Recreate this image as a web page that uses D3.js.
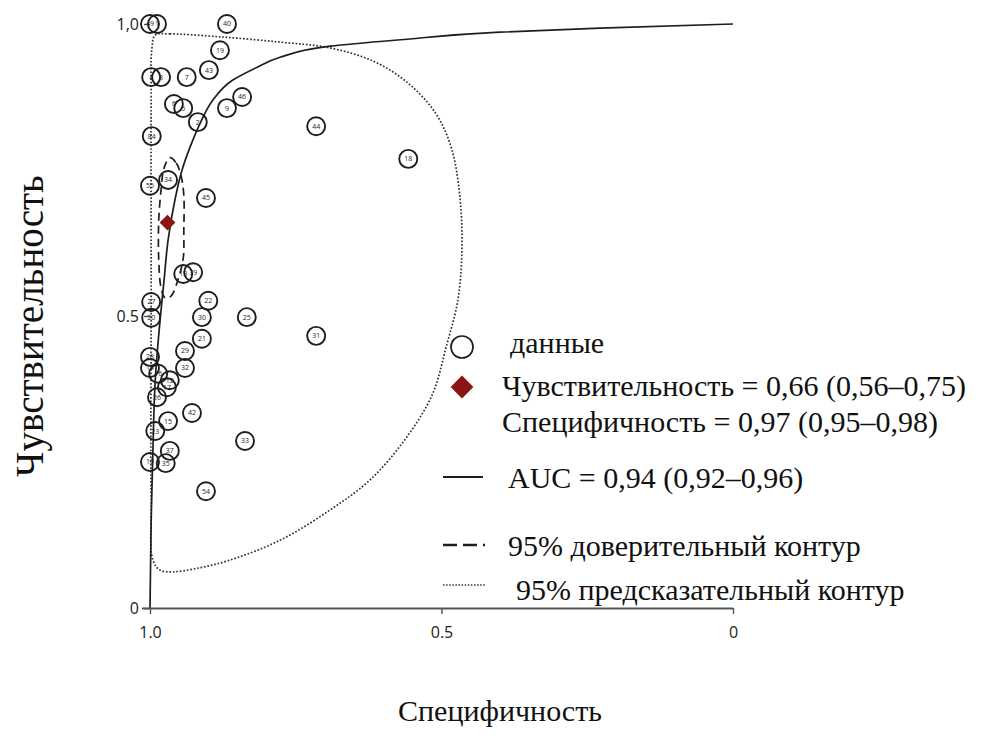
<!DOCTYPE html>
<html>
<head>
<meta charset="utf-8">
<script src="https://cdn.jsdelivr.net/npm/d3@7"></script>
<style>
  html, body { margin: 0; padding: 0; background: #fff; }
  svg { display: block; }
</style>
</head>
<body>
<svg id="chart" width="995" height="736"></svg>
<script>
// Individual studies: specificity, sensitivity, study number
const studySpec = [1.00, 0.988, 0.868, 0.880, 0.899, 0.937, 0.998, 0.981, 0.842, 0.868,
                   0.959, 0.943, 0.918, 0.997, 1.00, 0.969, 0.904, 0.943, 0.926, 0.998,
                   0.900, 0.998, 0.911, 0.834, 0.715, 0.911, 0.940, 1.00, 0.940, 1.00,
                   0.986, 0.966, 0.971, 0.988, 0.928, 0.969, 0.991, 0.837, 0.966, 1.00,
                   0.973, 0.904, 0.715, 0.557];
const studySens = [1.00, 1.00, 1.00, 0.955, 0.921, 0.909, 0.909, 0.909, 0.875, 0.856,
                   0.863, 0.856, 0.832, 0.808, 0.723, 0.733, 0.702, 0.572, 0.575, 0.524,
                   0.526, 0.497, 0.498, 0.498, 0.466, 0.461, 0.440, 0.430, 0.411, 0.411,
                   0.401, 0.390, 0.378, 0.361, 0.334, 0.320, 0.303, 0.286, 0.269, 0.250,
                   0.248, 0.200, 0.825, 0.769];
const studyIds  = ["49", "1", "40", "19", "43", "7", "4", "3", "46", "9",
                   "6", "5", "2", "84", "55", "34", "45", "13", "39", "27",
                   "22", "20", "30", "25", "31", "21", "29", "28", "32", "14",
                   "16", "12", "17", "26", "42", "15", "23", "33", "37", "10",
                   "35", "54", "44", "18"];

// Summary operating point
const summarySpec = 0.97;
const summarySens = 0.66;

// SROC curve (specificity, sensitivity)
const srocSpec = [1.0, 0.998, 0.995, 0.991, 0.983, 0.976, 0.969, 0.957, 0.945, 0.931,
                  0.914, 0.892, 0.858, 0.816, 0.777, 0.691, 0.571, 0.400, 0.228, 0.0];
const srocSens = [0.0, 0.15, 0.27, 0.39, 0.49, 0.56, 0.63, 0.70, 0.75, 0.79,
                  0.83, 0.87, 0.904, 0.926, 0.943, 0.962, 0.973, 0.986, 0.993, 1.0];

// 95% confidence region
const confSpec = [0.966, 0.955, 0.947, 0.942, 0.942, 0.943, 0.952, 0.964, 0.974, 0.981,
                  0.985, 0.985, 0.981, 0.976];
const confSens = [0.771, 0.762, 0.741, 0.707, 0.647, 0.599, 0.562, 0.534, 0.531, 0.548,
                  0.596, 0.664, 0.716, 0.753];

// 95% prediction region
const predSpec = [0.991, 0.966, 0.880, 0.777, 0.691, 0.614, 0.554, 0.508, 0.482, 0.468,
                  0.465, 0.472, 0.492, 0.516, 0.563, 0.623, 0.691, 0.777, 0.863, 0.919,
                  0.961, 0.983, 0.995, 0.998, 0.998, 0.998, 0.997];
const predSens = [0.981, 0.983, 0.978, 0.969, 0.959, 0.935, 0.896, 0.844, 0.784, 0.699,
                  0.613, 0.527, 0.447, 0.365, 0.288, 0.219, 0.168, 0.116, 0.082, 0.068,
                  0.062, 0.065, 0.082, 0.185, 0.527, 0.870, 0.955];

// Axis ticks
const xTicks = [1.0, 0.5, 0];
const xTickLabels = ["1.0", "0.5", "0"];
const yTicks = [0, 0.5, 1.0];
const yTickLabels = ["0", "0.5", "1,0"];

// Legend entries
const legendLabels = [
  "данные",
  "Чувствительность = 0,66 (0,56–0,75)",
  "Специфичность = 0,97 (0,95–0,98)",
  "AUC = 0,94 (0,92–0,96)",
  "95% доверительный контур",
  "95% предсказательный контур"
];

const svg = d3.select("#chart");
const x = d3.scaleLinear().domain([1, 0]).range([150, 733]);
const y = d3.scaleLinear().domain([0, 1]).range([608, 24]);

const serif = "'Liberation Serif', 'Times New Roman', serif";
const sans = "'Open Sans', 'Noto Sans', sans-serif";
const ink = "#1e1e1e";

// Prediction region (dotted)
const predPts = predSpec.map((s, i) => [x(s), y(predSens[i])]);
svg.append("path")
  .attr("d", d3.line().curve(d3.curveCatmullRomClosed.alpha(0.5))(predPts))
  .attr("fill", "none").attr("stroke", "#333").attr("stroke-width", 1.7)
  .attr("stroke-dasharray", "1.7,1.8");

// SROC curve
const srocPts = srocSpec.map((s, i) => [x(s), y(srocSens[i])]);
svg.append("path")
  .attr("d", d3.line().curve(d3.curveMonotoneY)(srocPts))
  .attr("fill", "none").attr("stroke", ink).attr("stroke-width", 1.7);

// Confidence region (dashed)
const confPts = confSpec.map((s, i) => [x(s), y(confSens[i])]);
svg.append("path")
  .attr("d", d3.line().curve(d3.curveCatmullRomClosed.alpha(0.5))(confPts))
  .attr("fill", "none").attr("stroke", ink).attr("stroke-width", 1.7)
  .attr("stroke-dasharray", "8,5");

// Axes
const xAxis = d3.axisBottom(x).tickValues(xTicks)
  .tickFormat((d, i) => xTickLabels[i]).tickSize(6).tickSizeOuter(0);
const gx = svg.append("g").attr("transform", "translate(0,608)").call(xAxis);
gx.select(".domain").attr("d", "M142,0.5H733").attr("stroke", "#555").attr("stroke-width", 1.8);
gx.selectAll(".tick line").attr("stroke", "#555").attr("stroke-width", 1.4);
gx.selectAll(".tick text").attr("dy", "1.3em")
  .attr("font-family", sans).attr("font-size", 16).attr("fill", "#222");

const yAxis = d3.axisLeft(y).tickValues(yTicks)
  .tickFormat((d, i) => yTickLabels[i]).tickSize(6).tickSizeOuter(0);
const gy = svg.append("g").attr("transform", "translate(150,0)").call(yAxis);
gy.select(".domain").remove();
gy.selectAll(".tick line").attr("stroke", "#555").attr("stroke-width", 1.4);
gy.selectAll(".tick text").attr("x", -11)
  .attr("font-family", sans).attr("font-size", 16).attr("fill", "#222");

// Studies
const studies = svg.append("g").selectAll("g")
  .data(studyIds.map((id, i) => ({ id, s: studySpec[i], v: studySens[i] })))
  .join("g")
  .attr("transform", d => `translate(${x(d.s)},${y(d.v)})`);
studies.append("circle").attr("r", 9)
  .attr("fill", "none").attr("stroke", ink).attr("stroke-width", 1.9);
studies.append("text").text(d => d.id)
  .attr("text-anchor", "middle").attr("dy", "0.35em")
  .attr("font-family", sans).attr("font-size", 7).attr("fill", ink);

// Summary point
const diamond = d3.symbol().type(d3.symbolDiamond2);
svg.append("path")
  .attr("d", diamond.size(160)())
  .attr("transform", `translate(${x(summarySpec)},${y(summarySens)})`)
  .attr("fill", "#8b1414");

// Legend
const lg = svg.append("g").attr("font-family", serif).attr("fill", "#111");
lg.append("circle").attr("cx", 462).attr("cy", 347).attr("r", 11)
  .attr("fill", "#fff").attr("stroke", ink).attr("stroke-width", 1.7);
lg.append("path").attr("d", diamond.size(330)())
  .attr("transform", "translate(462,387)").attr("fill", "#8b1414");
lg.append("line").attr("x1", 443).attr("x2", 483).attr("y1", 477).attr("y2", 477)
  .attr("stroke", ink).attr("stroke-width", 2);
lg.append("line").attr("x1", 443).attr("x2", 485).attr("y1", 545).attr("y2", 545)
  .attr("stroke", ink).attr("stroke-width", 2.4).attr("stroke-dasharray", "14,6");
lg.append("line").attr("x1", 443).attr("x2", 485).attr("y1", 585).attr("y2", 585)
  .attr("stroke", "#333").attr("stroke-width", 1.4).attr("stroke-dasharray", "1.5,1.6");

const legendPos = [[510, 353], [502, 396], [502, 432], [508, 488], [508, 556], [516, 600]];
legendLabels.forEach((t, i) => {
  lg.append("text").attr("x", legendPos[i][0]).attr("y", legendPos[i][1])
    .attr("font-size", 30).text(t);
});

// Axis titles
svg.append("text").text("Специфичность")
  .attr("x", 500).attr("y", 721).attr("text-anchor", "middle")
  .attr("font-family", serif).attr("font-size", 30).attr("fill", "#111");
svg.append("text").text("Чувствительность")
  .attr("transform", "translate(43,326) rotate(-90)").attr("text-anchor", "middle")
  .attr("font-family", serif).attr("font-size", 39).attr("fill", "#111");
</script>
</body>
</html>
